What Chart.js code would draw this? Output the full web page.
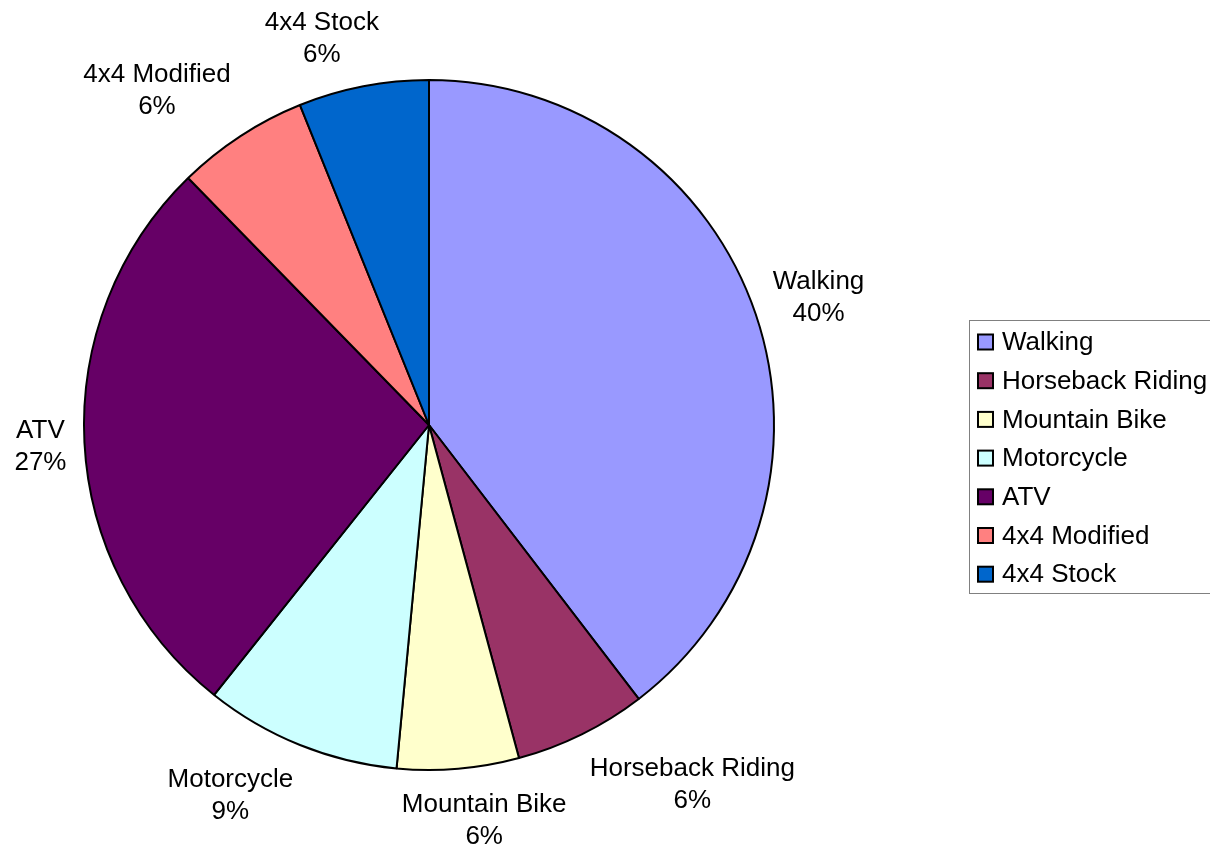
<!DOCTYPE html>
<html>
<head>
<meta charset="utf-8">
<script src="https://cdn.jsdelivr.net/npm/chart.js@4/dist/chart.umd.min.js"></script>
<style>
  html, body { margin: 0; padding: 0; background: #fff; }
  #wrap { width: 1210px; height: 851px; }
</style>
</head>
<body>
<div id="wrap"><canvas id="pieChart" width="1210" height="851"></canvas></div>
<script>
// trail use shares (percent)
const activities = ['Walking', 'Horseback Riding', 'Mountain Bike', 'Motorcycle', 'ATV', '4x4 Modified', '4x4 Stock'];
const shares = [39.6, 6.2, 5.7, 9.2, 27.0, 6.2, 6.1];
const sliceColors = ['#9999FF', '#993366', '#FFFFCC', '#CCFFFF', '#660066', '#FF8080', '#0066CC'];

const FONT = '26px "Liberation Sans", Arial, sans-serif';

// labels outside each slice: "Name" over "NN%"
const outsideLabels = {
    id: 'outsideLabels',
    afterDatasetsDraw(chart) {
        const ctx = chart.ctx;
        const meta = chart.getDatasetMeta(0);
        const total = shares.reduce((a, b) => a + b, 0);
        ctx.save();
        ctx.font = FONT;
        ctx.fillStyle = '#000';
        ctx.textAlign = 'center';
        ctx.textBaseline = 'middle';
        meta.data.forEach((arc, i) => {
            const mid = (arc.startAngle + arc.endAngle) / 2;
            const r = arc.outerRadius + 18;
            const px = arc.x + Math.cos(mid) * r;
            const py = arc.y + Math.sin(mid) * r;
            const pct = Math.round(shares[i] / total * 100) + '%';
            const w = Math.max(ctx.measureText(activities[i]).width, ctx.measureText(pct).width);
            const sx = Math.max(-1, Math.min(1, Math.cos(mid) * 3.5));
            const sy = Math.max(-1, Math.min(1, Math.sin(mid) * 1.2));
            const cx = px + sx * w / 2;
            const cy = py + sy * 32 + 2;
            ctx.fillText(activities[i], cx, cy - 16);
            ctx.fillText(pct, cx, cy + 16);
        });
        ctx.restore();
    }
};

// boxed legend on the right
const boxLegend = {
    id: 'boxLegend',
    afterDraw(chart) {
        const ctx = chart.ctx;
        const left = 969, top = 320, bottom = 593;
        ctx.save();
        ctx.strokeStyle = '#808080';
        ctx.lineWidth = 1;
        ctx.strokeRect(left + 0.5, top + 0.5, chart.width + 10 - left, bottom - top);
        ctx.font = FONT;
        ctx.textBaseline = 'middle';
        ctx.textAlign = 'left';
        activities.forEach((name, i) => {
            const y = 342 + i * 38.7;
            ctx.fillStyle = sliceColors[i];
            ctx.fillRect(978, y - 7.5, 15, 15);
            ctx.strokeStyle = '#000';
            ctx.lineWidth = 2;
            ctx.strokeRect(978, y - 7.5, 15, 15);
            ctx.fillStyle = '#000';
            ctx.fillText(name, 1002, y + 1);
        });
        ctx.restore();
    }
};

new Chart(document.getElementById('pieChart'), {
    type: 'pie',
    data: {
        labels: activities,
        datasets: [{
            data: shares,
            backgroundColor: sliceColors,
            borderColor: '#000',
            borderWidth: 2
        }]
    },
    options: {
        responsive: false,
        animation: false,
        layout: {
            padding: { top: 79, bottom: 80, left: 83, right: 435 }
        },
        plugins: {
            legend: { display: false },
            tooltip: { enabled: false }
        }
    },
    plugins: [outsideLabels, boxLegend]
});
</script>
</body>
</html>
